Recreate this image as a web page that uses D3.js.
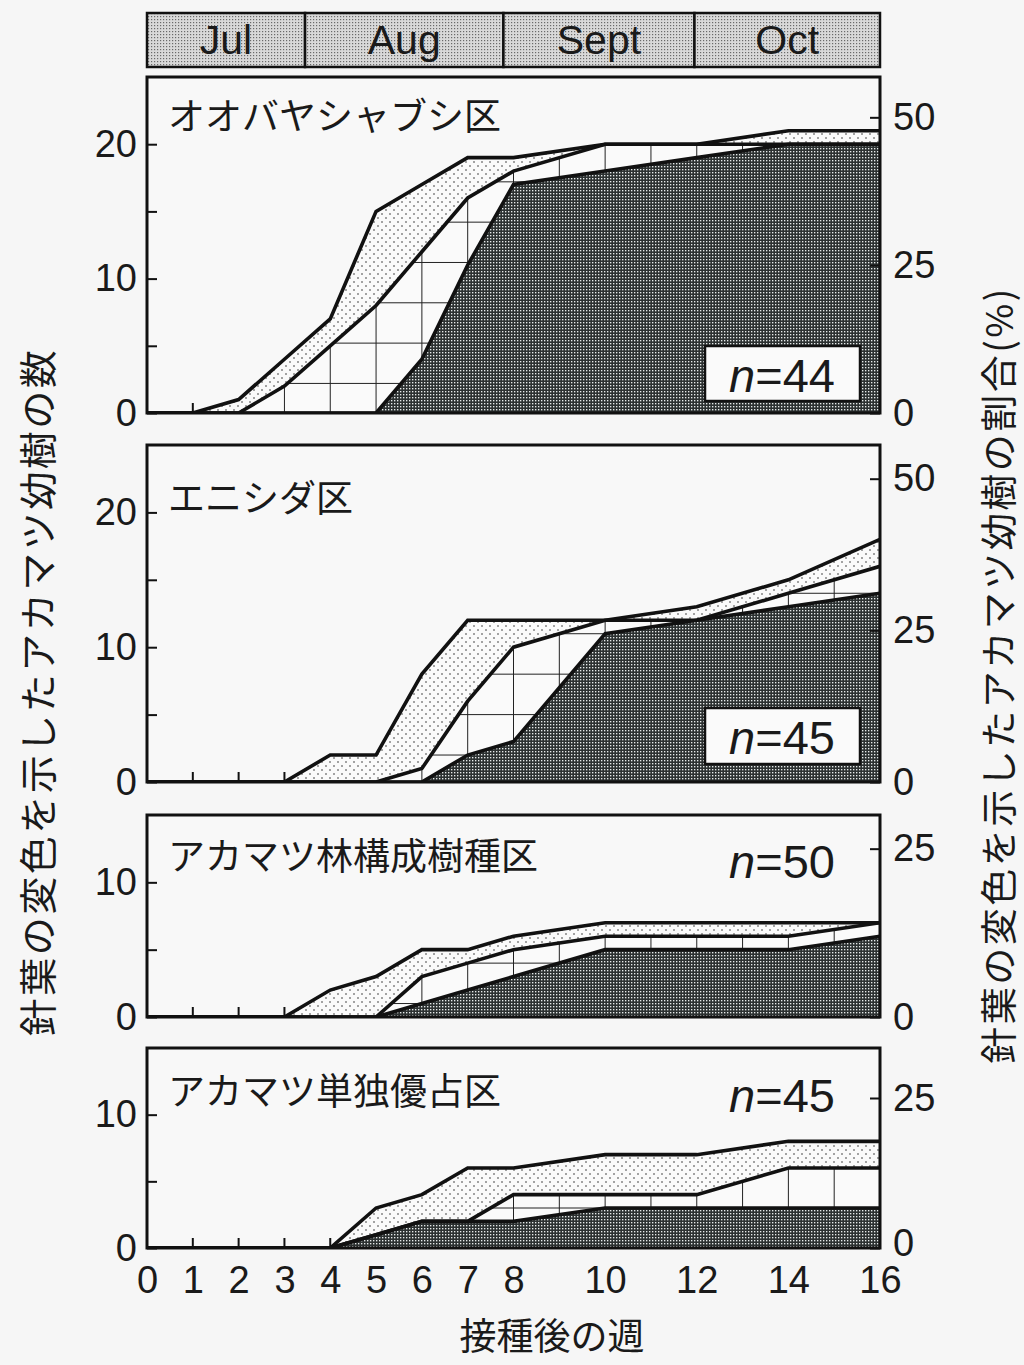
<!DOCTYPE html>
<html><head><meta charset="utf-8">
<script src="https://cdn.jsdelivr.net/npm/d3@7"></script>
<style>
html,body{margin:0;padding:0;background:#f6f6f6;}
svg{display:block;}
</style></head>
<body>
<svg id="chart" width="1024" height="1365"></svg>
<script>
// ---------- data ----------
const weeks = [0,1,2,3,4,5,6,7,8,10,12,14,16];
const xTickLabels = [0,1,2,3,4,5,6,7,8,10,12,14,16];
const months = ['Jul','Aug','Sept','Oct'];
const monthBounds = [0,3.45,7.78,11.95,16];

const panelNames = ['オオバヤシャブシ区','エニシダ区','アカマツ林構成樹種区','アカマツ単独優占区'];
const panelN = [44,45,50,45];
const panelYMax = [25,25,15,15];
const leftTicks = [[0,5,10,15,20],[0,5,10,15,20],[0,5,10],[0,5,10]];
const leftLabels = [[0,10,20],[0,10,20],[0,10],[0,10]];
const rightTicks = [[0,25,50],[0,25,50],[0,25],[0,25]];
const gridOffset = [2.2,2,1,0];

// upper line (outer), middle line, lower line (dark area)
const p1Top  = [0,0,1,4,7,15,17,19,19,20,20,21,21];
const p1Mid  = [0,0,0,2,5,8,12,16,18,20,20,20,20];
const p1Dark = [0,0,0,0,0,0,4,11,17,18,19,20,20];

const p2Top  = [0,0,0,0,2,2,8,12,12,12,13,15,18];
const p2Mid  = [0,0,0,0,0,0,1,6,10,12,12,14,16];
const p2Dark = [0,0,0,0,0,0,0,2,3,11,12,13,14];

const p3Top  = [0,0,0,0,2,3,5,5,6,7,7,7,7];
const p3Mid  = [0,0,0,0,0,0,3,4,5,6,6,6,7];
const p3Dark = [0,0,0,0,0,0,1,2,3,5,5,5,6];

const p4Top  = [0,0,0,0,0,3,4,6,6,7,7,8,8];
const p4Mid  = [0,0,0,0,0,1,2,2,4,4,4,6,6];
const p4Dark = [0,0,0,0,0,1,2,2,2,3,3,3,3];

const seriesTop  = [p1Top,p2Top,p3Top,p4Top];
const seriesMid  = [p1Mid,p2Mid,p3Mid,p4Mid];
const seriesDark = [p1Dark,p2Dark,p3Dark,p4Dark];

// ---------- layout ----------
const L = 147, R = 880;
const layout = [{top:77,bottom:413},{top:445,bottom:782},{top:815,bottom:1017},{top:1048,bottom:1248}];
const boxed = [true,true,false,false];
const nBox = [{y0:346,y1:401},{y0:708,y1:764}];
const nBase = [392,754,878,1112];
const nameBase = [130,512,870,1105];

const LATIN = "'Liberation Sans', Arial, Helvetica, sans-serif";
const CJK = "'Noto Sans CJK JP', 'Noto Sans', sans-serif";

const svg = d3.select('#chart');
const defs = svg.append('defs');

// light stipple
const ps = defs.append('pattern').attr('id','stip').attr('patternUnits','userSpaceOnUse').attr('width',8).attr('height',8);
ps.append('rect').attr('width',8).attr('height',8).attr('fill','#fafafa');
ps.append('circle').attr('cx',2).attr('cy',2).attr('r',0.8).attr('fill','#333');
ps.append('circle').attr('cx',6).attr('cy',6).attr('r',0.8).attr('fill','#333');
// dark halftone
const pd = defs.append('pattern').attr('id','dark').attr('patternUnits','userSpaceOnUse').attr('width',3).attr('height',3);
pd.append('rect').attr('width',3).attr('height',3).attr('fill','#2c3131');
pd.append('rect').attr('x',1).attr('y',1).attr('width',1.35).attr('height',1.35).attr('fill','#e6eaea');
// month stipple
const pm = defs.append('pattern').attr('id','mon').attr('patternUnits','userSpaceOnUse').attr('width',3).attr('height',3);
pm.append('rect').attr('width',3).attr('height',3).attr('fill','#d9d9d9');
pm.append('rect').attr('x',1).attr('y',1).attr('width',1.2).attr('height',1.2).attr('fill','#6a6a6a');

const x = d3.scaleLinear().domain([0,16]).range([L,R]);

// ---------- month bar ----------
const mb = svg.append('g');
months.forEach((m,i)=>{
  mb.append('rect').attr('x',x(monthBounds[i])).attr('y',13)
    .attr('width',x(monthBounds[i+1])-x(monthBounds[i])).attr('height',54)
    .attr('fill','url(#mon)').attr('stroke','#111').attr('stroke-width',2.5);
  mb.append('text').attr('x',(x(monthBounds[i])+x(monthBounds[i+1]))/2).attr('y',54)
    .attr('text-anchor','middle').attr('font-family',LATIN).attr('font-size',41)
    .attr('fill','#1a1a1a').text(m);
});

// ---------- panels ----------
layout.forEach((lay,i)=>{
  const n = panelN[i];
  const y = d3.scaleLinear().domain([0,panelYMax[i]]).range([lay.bottom,lay.top]);
  const yR = d3.scaleLinear().domain([0,panelYMax[i]/n*100]).range([lay.bottom,lay.top]);
  const g = svg.append('g');
  const clipId = 'clip'+i;
  defs.append('clipPath').attr('id',clipId).append('rect')
    .attr('x',L).attr('y',lay.top).attr('width',R-L).attr('height',lay.bottom-lay.top);

  const pg = g.append('g').attr('clip-path',`url(#${clipId})`);
  pg.append('rect').attr('x',L).attr('y',lay.top).attr('width',R-L).attr('height',lay.bottom-lay.top).attr('fill','#f8f8f8');

  // bottom inward ticks
  pg.selectAll('line.bt').data(d3.range(1,16)).enter().append('line')
    .attr('x1',d=>x(d)).attr('x2',d=>x(d)).attr('y1',lay.bottom).attr('y2',lay.bottom-10)
    .attr('stroke','#111').attr('stroke-width',2);

  const area = arr => d3.area().x((d,j)=>x(weeks[j])).y0(y(0)).y1(d=>y(d))(arr);
  const line = arr => d3.line().x((d,j)=>x(weeks[j])).y(d=>y(d))(arr);

  pg.append('path').attr('d',area(seriesTop[i])).attr('fill','url(#stip)');
  pg.append('path').attr('d',area(seriesMid[i])).attr('fill','#fafafa');

  const gridClip = 'gclip'+i;
  defs.append('clipPath').attr('id',gridClip).append('path').attr('d',area(seriesMid[i]));
  const gg = pg.append('g').attr('clip-path',`url(#${gridClip})`);
  gg.selectAll('line.v').data(d3.range(1,16)).enter().append('line')
    .attr('x1',d=>x(d)).attr('x2',d=>x(d)).attr('y1',lay.top).attr('y2',lay.bottom)
    .attr('stroke','#222').attr('stroke-width',1);
  const hv = d3.range(gridOffset[i], panelYMax[i], 3);
  gg.selectAll('line.h').data(hv).enter().append('line')
    .attr('x1',L).attr('x2',R).attr('y1',d=>y(d)).attr('y2',d=>y(d))
    .attr('stroke','#222').attr('stroke-width',1);

  pg.append('path').attr('d',area(seriesDark[i])).attr('fill','url(#dark)');

  [seriesTop[i],seriesMid[i],seriesDark[i]].forEach(s=>{
    pg.append('path').attr('d',line(s)).attr('fill','none').attr('stroke','#111')
      .attr('stroke-width',3.6).attr('stroke-linejoin','miter');
  });

  // left axis
  const ax = g.append('g').attr('transform',`translate(${L},0)`)
    .call(d3.axisLeft(y).tickValues(leftTicks[i]).tickSize(-10).tickPadding(10)
      .tickFormat(d=>leftLabels[i].includes(d)?d:''));
  ax.select('.domain').remove();
  ax.selectAll('line').attr('stroke','#111').attr('stroke-width',2);
  ax.selectAll('text').attr('font-family',LATIN).attr('font-size',38).attr('fill','#1a1a1a');

  // right axis
  const ar = g.append('g').attr('transform',`translate(${R},0)`)
    .call(d3.axisRight(yR).tickValues(rightTicks[i]).tickSize(-10).tickPadding(13));
  ar.select('.domain').remove();
  ar.selectAll('line').attr('stroke','#111').attr('stroke-width',2);
  ar.selectAll('text').attr('font-family',LATIN).attr('font-size',38).attr('fill','#1a1a1a');
  if (i === layout.length-1) ar.selectAll('text').filter(d=>d===0).attr('dy','0.2em');

  // border
  g.append('rect').attr('x',L).attr('y',lay.top).attr('width',R-L).attr('height',lay.bottom-lay.top)
    .attr('fill','none').attr('stroke','#111').attr('stroke-width',3);

  // panel name
  g.append('text').attr('x',168).attr('y',nameBase[i]).attr('font-family',CJK)
    .attr('font-size',37).attr('fill','#1a1a1a').text(panelNames[i]);

  // n label
  if (boxed[i]) {
    g.append('rect').attr('x',705).attr('y',nBox[i].y0).attr('width',155).attr('height',nBox[i].y1-nBox[i].y0)
      .attr('fill','#fafafa').attr('stroke','#111').attr('stroke-width',2.5);
  }
  const t = g.append('text').attr('x',782).attr('y',nBase[i]).attr('text-anchor','middle')
    .attr('font-family',LATIN).attr('font-size',47).attr('fill','#1a1a1a');
  t.append('tspan').attr('font-style','italic').text('n');
  t.append('tspan').text('='+n);

  if (i === layout.length-1) {
    const xb = g.append('g').attr('transform',`translate(0,${lay.bottom})`)
      .call(d3.axisBottom(x).tickValues(xTickLabels).tickSize(0).tickPadding(18).tickFormat(d3.format('d')));
    xb.select('.domain').remove();
    xb.selectAll('text').attr('font-family',LATIN).attr('font-size',38).attr('fill','#1a1a1a');
  }
});

// axis titles
svg.append('text').attr('x',552).attr('y',1350).attr('text-anchor','middle')
  .attr('font-family',CJK).attr('font-size',37).attr('fill','#1a1a1a').text('接種後の週');
svg.append('text').attr('transform','translate(52,692) rotate(-90)').attr('text-anchor','middle')
  .attr('font-family',CJK).attr('font-size',38).attr('letter-spacing',2.5).attr('fill','#1a1a1a')
  .text('針葉の変色を示したアカマツ幼樹の数');
svg.append('text').attr('transform','translate(1013,675) rotate(-90)').attr('text-anchor','middle')
  .attr('font-family',CJK).attr('font-size',37).attr('letter-spacing',2.5).attr('fill','#1a1a1a')
  .text('針葉の変色を示したアカマツ幼樹の割合(%)');
</script>
</body></html>
